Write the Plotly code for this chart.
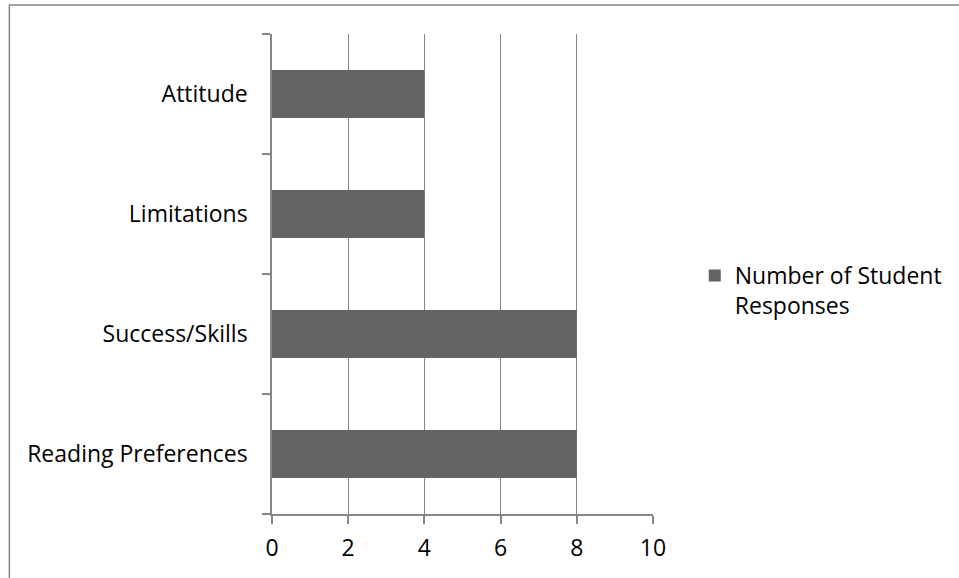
import plotly.graph_objects as go

categories = ["Reading Preferences", "Success/Skills", "Limitations", "Attitude"]
responses = [8, 8, 4, 4]
series_name = "Number of Student<br>Responses"
x_ticks = [0, 2, 4, 6, 8, 10]

W, H = 959, 578
L, R, T, B = 272, 304, 34, 64
pw, ph = W - L - R, H - T - B

fig = go.Figure()
fig.add_trace(go.Bar(
    y=categories, x=responses, orientation="h", name=series_name,
    marker=dict(color="#636363", line=dict(width=0)),
    showlegend=True,
))

font = dict(family="Open Sans, Liberation Sans, sans-serif", size=23, color="#000000")

fig.update_layout(
    width=W, height=H,
    margin=dict(l=L, r=R, t=T, b=B, pad=0),
    paper_bgcolor="white", plot_bgcolor="white",
    font=font,
    bargap=0.6,
    showlegend=True,
    legend=dict(x=(697 - L) / pw, y=(T + ph - 254) / ph, xanchor="left", yanchor="top",
                font=font, valign="top", itemwidth=30, tracegroupgap=0,
                bgcolor="rgba(0,0,0,0)"),
    xaxis=dict(range=[0, 10], tickvals=x_ticks, showgrid=True, gridcolor="#868686", gridwidth=1,
               showline=True, linecolor="#868686", linewidth=1.5, ticks="outside", ticklen=8,
               tickcolor="#868686", tickwidth=1.5, zeroline=False, fixedrange=True,
               ticklabelstandoff=5),
    yaxis=dict(type="category", categoryorder="array", categoryarray=categories,
               showline=True, linecolor="#868686", linewidth=1.5, ticks="outside", ticklen=8,
               tickcolor="#868686", tickwidth=1.5, tickson="boundaries", showgrid=False,
               ticklabelstandoff=18, fixedrange=True),
    shapes=[dict(type="rect", xref="paper", yref="paper",
                 x0=(8 - L) / pw, x1=(990 - L) / pw, y0=(T + ph - 600) / ph,
                 y1=(T + ph - 5) / ph, line=dict(color="#868686", width=1.5),
                 fillcolor="rgba(0,0,0,0)", layer="below")],
)

fig.write_html("out.html", config={"displayModeBar": False},
               post_script="document.body.style.margin='0';document.body.style.padding='0';")
